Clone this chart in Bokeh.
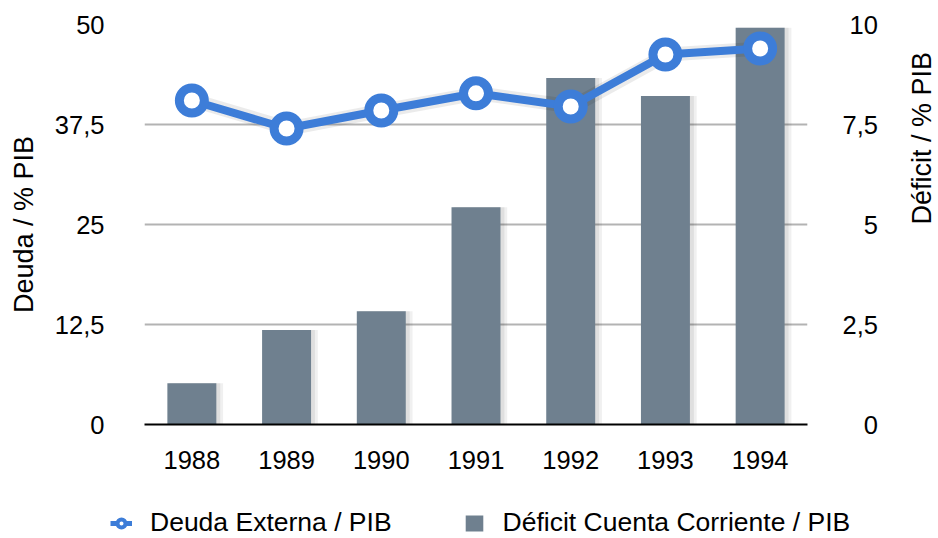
import math
from bokeh.plotting import figure
from bokeh.models import (Range1d, LinearAxis, FixedTicker, ColumnDataSource,
                          Legend, LegendItem)
from bokeh.transform import dodge
from bokeh.embed import file_html
from bokeh.resources import INLINE

years = ["1988", "1989", "1990", "1991", "1992", "1993", "1994"]
deuda = [40.5, 37.0, 39.25, 41.4, 39.75, 46.25, 47.0]          # Deuda Externa / PIB (left axis)
deficit = [1.03, 2.36, 2.83, 5.43, 8.66, 8.21, 9.92]          # Déficit Cuenta Corriente / PIB (right axis)
left_ticks = [0, 12.5, 25, 37.5, 50]
left_labels = ["0", "12,5", "25", "37,5", "50"]
right_ticks = [0, 2.5, 5, 7.5, 10]
right_labels = ["0", "2,5", "5", "7,5", "10"]
series_names = ["Deuda Externa / PIB", "Déficit Cuenta Corriente / PIB"]

BLUE = "#3d7dd8"
BAR = "#6f808f"
FONT = "Liberation Sans"

src = ColumnDataSource(data=dict(year=years, deuda=deuda, deficit=deficit))

p = figure(x_range=years, y_range=Range1d(0, 50), width=954, height=490,
           output_backend="svg", toolbar_location=None,
           min_border_left=144, min_border_right=146,
           min_border_top=24, min_border_bottom=66)
p.extra_y_ranges = {"def": Range1d(0, 10)}
p.outline_line_color = None
p.background_fill_color = "white"
p.border_fill_color = "white"

# grid
p.xgrid.grid_line_color = None
p.ygrid.grid_line_color = "#b3b3b3"
p.ygrid.grid_line_width = 2
p.ygrid.ticker = FixedTicker(ticks=left_ticks)

# bar shadows
p.vbar(x=dodge("year", 0.05, range=p.x_range), top="deficit", width=0.56, source=src,
       y_range_name="def", fill_color="black", fill_alpha=0.06, line_color=None)
p.vbar(x=dodge("year", 0.03, range=p.x_range), top="deficit", width=0.54, source=src,
       y_range_name="def", fill_color="black", fill_alpha=0.07, line_color=None)
p.vbar(x="year", top="deficit", width=0.517, source=src, y_range_name="def",
       fill_color=BAR, line_color=None)

# line shadow
p.line(x=dodge("year", 0.02, range=p.x_range), y="deuda", source=src, line_color="black",
       line_alpha=0.08, line_width=14)
p.line(x="year", y="deuda", source=src, line_color=BLUE, line_width=8)
p.scatter(x="year", y="deuda", source=src, size=25, line_width=9,
          line_color=BLUE, fill_color="white")

# axes
xa = p.xaxis[0]
xa.axis_line_color = "black"
xa.axis_line_width = 2
xa.major_tick_line_color = None
xa.minor_tick_line_color = None
xa.major_tick_out = 0
xa.major_tick_in = 0
xa.major_label_text_font = FONT
xa.major_label_text_font_size = "25.5px"
xa.major_label_text_color = "black"
xa.major_label_standoff = 26

ya = p.yaxis[0]
ya.ticker = FixedTicker(ticks=left_ticks)
ya.major_label_overrides = {t: l for t, l in zip(left_ticks, left_labels)}
ya.axis_line_color = None
ya.major_tick_line_color = None
ya.minor_tick_line_color = None
ya.major_tick_out = 0
ya.major_tick_in = 0
ya.major_label_text_font = FONT
ya.major_label_text_font_size = "25.5px"
ya.major_label_text_color = "black"
ya.major_label_standoff = 40
ya.axis_label = "Deuda / % PIB"
ya.axis_label_text_font = FONT
ya.axis_label_text_font_size = "27px"
ya.axis_label_text_font_style = "normal"
ya.axis_label_text_color = "black"
ya.axis_label_standoff = 13

# right-aligned right labels via padding spaces
pad = {"0": "\u2007\u2008", "2,5": "", "5": "\u2007\u2008", "7,5": "", "10": "\u2008"}
ra = LinearAxis(y_range_name="def", ticker=FixedTicker(ticks=right_ticks))
ra.major_label_overrides = {t: pad[l] + l for t, l in zip(right_ticks, right_labels)}
ra.axis_line_color = None
ra.major_tick_line_color = None
ra.minor_tick_line_color = None
ra.major_tick_out = 0
ra.major_tick_in = 0
ra.major_label_text_font = FONT
ra.major_label_text_font_size = "25.5px"
ra.major_label_text_color = "black"
ra.major_label_standoff = 35
ra.axis_label = "Déficit / % PIB"
ra.axis_label_text_font = FONT
ra.axis_label_text_font_size = "27px"
ra.axis_label_text_font_style = "normal"
ra.axis_label_text_color = "black"
ra.axis_label_standoff = 41
ra.axis_label_orientation = math.pi / 2
ra.axis_label_text_baseline = "top"
p.add_layout(ra, "right")

# legend strip: separate root figure whose frame is the whole canvas
lg = figure(width=938, height=48, output_backend="svg", toolbar_location=None,
            x_range=Range1d(0, 1), y_range=Range1d(0, 1),
            x_axis_type=None, y_axis_type=None, min_border=0,
            min_border_left=0, min_border_right=0, min_border_top=0, min_border_bottom=0)
lg.outline_line_color = None
lg.grid.grid_line_color = None
lg.background_fill_color = "white"
off = dict(x=[-5, -4], y=[-5, -5])
l_line = lg.line(x=off["x"], y=off["y"], line_color=BLUE, line_width=5)
l_sc = lg.scatter(x=off["x"], y=off["y"], size=8, line_width=4, line_color=BLUE, fill_color="white")
l_bar = lg.vbar(x=off["x"], top=off["y"], width=0.5, fill_color=BAR, line_color=None)

legend = Legend(items=[LegendItem(label=series_names[0], renderers=[l_line, l_sc]),
                       LegendItem(label=series_names[1], renderers=[l_bar])],
                orientation="horizontal", location=(110, 0), spacing=71,
                glyph_width=22, glyph_height=20, label_standoff=18, padding=0, margin=0,
                border_line_color=None, background_fill_alpha=0,
                label_text_font=FONT, label_text_font_size="26.5px", label_text_color="black")
lg.add_layout(legend)

open("out.html", "w").write(file_html([p, lg], INLINE))
